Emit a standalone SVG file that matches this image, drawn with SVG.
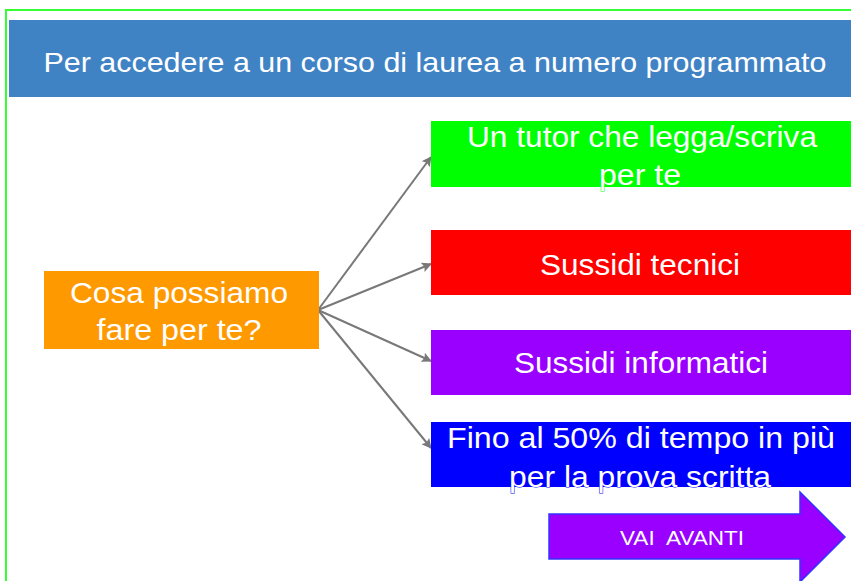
<svg xmlns="http://www.w3.org/2000/svg" width="851" height="581" viewBox="0 0 851 581">
<defs>
<style>
text{font-family:"Liberation Sans",Arial,sans-serif;fill:#fff;text-anchor:middle}
.big{font-size:30px}
.conn{stroke:#787878;stroke-width:2;fill:none;marker-end:url(#ah)}
</style>
<marker id="ah" markerWidth="10" markerHeight="10" refX="9" refY="5" orient="auto" markerUnits="userSpaceOnUse">
<path d="M0,0 L10,5 L0,10 L2,5 Z" fill="#787878"/>
</marker>
</defs>
<rect width="851" height="581" fill="#fff"/>
<rect x="6" y="10" width="850" height="580" fill="none" stroke="#33ff33" stroke-width="2"/>
<g id="header">
<rect x="9" y="20" width="845" height="77" fill="#3f83c5"/>
<text x="435" y="72" font-size="28" textLength="783" lengthAdjust="spacingAndGlyphs">Per accedere a un corso di laurea a numero programmato</text>
</g>
<g id="connectors">
<line class="conn" x1="318" y1="310" x2="431" y2="157"/>
<line class="conn" x1="318" y1="310" x2="431" y2="264"/>
<line class="conn" x1="318" y1="310" x2="431" y2="361"/>
<line class="conn" x1="318" y1="310" x2="431" y2="448"/>
</g>
<g id="source">
<rect x="44" y="271" width="275" height="78" fill="#ff9900"/>
<text class="big" x="179" y="303" textLength="218" lengthAdjust="spacingAndGlyphs">Cosa possiamo</text>
<text class="big" x="179" y="340" textLength="165" lengthAdjust="spacingAndGlyphs">fare per te?</text>
</g>
<g id="tutor">
<rect x="431" y="121" width="425" height="66" fill="#00ff00"/>
<text class="big" x="642" y="147" stroke="#00ff00" stroke-width="1" paint-order="stroke" textLength="350" lengthAdjust="spacingAndGlyphs">Un tutor che legga/scriva</text>
<text class="big" x="640" y="185" stroke="#00ff00" stroke-width="1" paint-order="stroke" textLength="82" lengthAdjust="spacingAndGlyphs">per te</text>
</g>
<g id="tecnici">
<rect x="431" y="230" width="425" height="65" fill="#ff0000"/>
<text class="big" x="640" y="275" textLength="200" lengthAdjust="spacingAndGlyphs">Sussidi tecnici</text>
</g>
<g id="informatici">
<rect x="431" y="330" width="425" height="65" fill="#9900ff"/>
<text class="big" x="641" y="373" textLength="254" lengthAdjust="spacingAndGlyphs">Sussidi informatici</text>
</g>
<g id="tempo">
<rect x="431" y="422" width="425" height="65" fill="#0000ff"/>
<text class="big" x="641" y="448" stroke="#0000ff" stroke-width="1" paint-order="stroke" textLength="388" lengthAdjust="spacingAndGlyphs">Fino al 50% di tempo in più</text>
<text class="big" x="640" y="487" stroke="#0000ff" stroke-width="1" paint-order="stroke" textLength="262" lengthAdjust="spacingAndGlyphs">per la prova scritta</text>
</g>
<g id="avanti">
<path d="M549,514 H800 V492 L845,537 L800,582 V559 H549 Z" fill="#9900ff" stroke="#3333ff" stroke-width="1.5"/>
<text x="682" y="545" font-size="20" textLength="124" lengthAdjust="spacingAndGlyphs" xml:space="preserve">VAI  AVANTI</text>
</g>
</svg>
